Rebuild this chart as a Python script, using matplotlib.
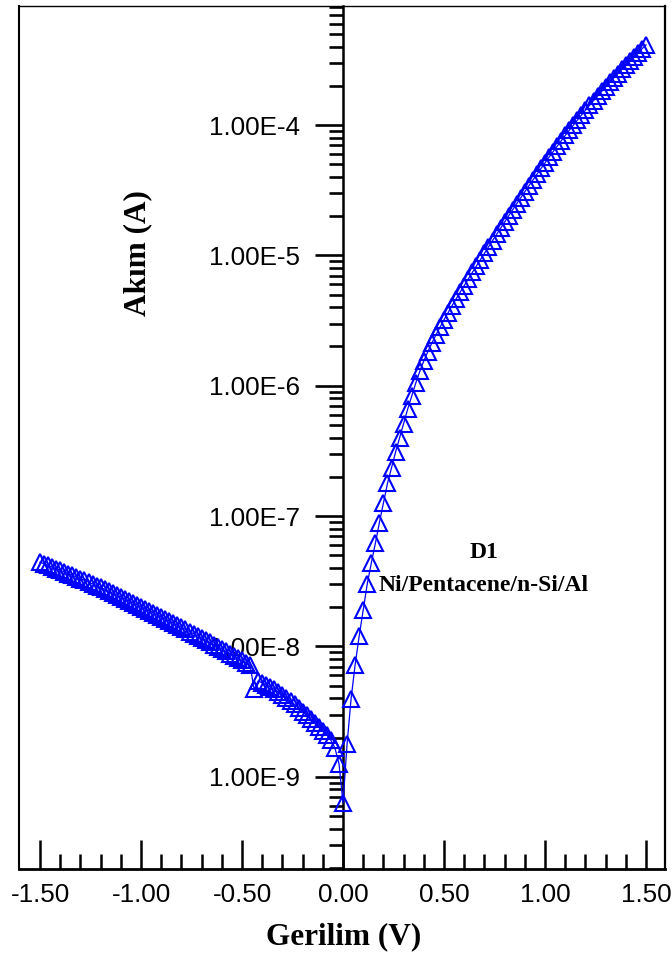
import numpy as np
import matplotlib
matplotlib.use("Agg")
import matplotlib.pyplot as plt
from matplotlib.ticker import FixedLocator, FuncFormatter, LogLocator, NullFormatter

# --- data (voltage in V, log10 of |current| in A) ---
voltage_reverse = [
    -1.50, -1.48, -1.46, -1.44, -1.42, -1.40, -1.38, -1.36, -1.34, -1.32,
    -1.30, -1.28, -1.26, -1.24, -1.22, -1.20, -1.18, -1.16, -1.14, -1.12,
    -1.10, -1.08, -1.06, -1.04, -1.02, -1.00, -0.98, -0.96, -0.94, -0.92,
    -0.90, -0.88, -0.86, -0.84, -0.82, -0.80, -0.78, -0.76, -0.74, -0.72,
    -0.70, -0.68, -0.66, -0.64, -0.62, -0.60, -0.58, -0.56, -0.54, -0.52,
    -0.50, -0.48, -0.46, -0.44, -0.42, -0.40, -0.38, -0.36, -0.34, -0.32,
    -0.30, -0.28, -0.26, -0.24, -0.22, -0.20, -0.18, -0.16, -0.14, -0.12,
    -0.10, -0.08, -0.06, -0.04, -0.02,
]
log_current_reverse = [
    -7.354, -7.366, -7.378, -7.391, -7.403, -7.416, -7.429, -7.441, -7.454, -7.467,
    -7.480, -7.493, -7.507, -7.520, -7.534, -7.548, -7.562, -7.576, -7.591, -7.605,
    -7.620, -7.635, -7.650, -7.665, -7.680, -7.695, -7.711, -7.726, -7.742, -7.757,
    -7.773, -7.789, -7.805, -7.821, -7.837, -7.853, -7.869, -7.886, -7.902, -7.919,
    -7.935, -7.952, -7.969, -7.986, -8.003, -8.020, -8.037, -8.055, -8.072, -8.090,
    -8.108, -8.126, -8.145, -8.330, -8.265, -8.280, -8.295, -8.310, -8.330, -8.350,
    -8.370, -8.395, -8.420, -8.445, -8.470, -8.500, -8.530, -8.560, -8.590, -8.620,
    -8.650, -8.680, -8.720, -8.780, -8.900,
]
voltage_forward = [
    0.00, 0.02, 0.04, 0.06, 0.08, 0.10, 0.12, 0.14, 0.16, 0.18,
    0.20, 0.22, 0.24, 0.26, 0.28, 0.30, 0.32, 0.34, 0.36, 0.38,
    0.40, 0.42, 0.44, 0.46, 0.48, 0.50, 0.52, 0.54, 0.56, 0.58,
    0.60, 0.62, 0.64, 0.66, 0.68, 0.70, 0.72, 0.74, 0.76, 0.78,
    0.80, 0.82, 0.84, 0.86, 0.88, 0.90, 0.92, 0.94, 0.96, 0.98,
    1.00, 1.02, 1.04, 1.06, 1.08, 1.10, 1.12, 1.14, 1.16, 1.18,
    1.20, 1.22, 1.24, 1.26, 1.28, 1.30, 1.32, 1.34, 1.36, 1.38,
    1.40, 1.42, 1.44, 1.46, 1.48, 1.50,
]
log_current_forward = [
    -9.200, -8.750, -8.400, -8.140, -7.920, -7.720, -7.520, -7.360, -7.210, -7.050,
    -6.900, -6.750, -6.630, -6.510, -6.400, -6.290, -6.180, -6.080, -5.980, -5.890,
    -5.810, -5.738, -5.672, -5.610, -5.551, -5.494, -5.439, -5.385, -5.333, -5.282,
    -5.231, -5.181, -5.131, -5.082, -5.033, -4.984, -4.935, -4.887, -4.839, -4.791,
    -4.743, -4.696, -4.649, -4.603, -4.557, -4.511, -4.466, -4.421, -4.377, -4.333,
    -4.289, -4.246, -4.204, -4.162, -4.121, -4.080, -4.040, -4.001, -3.962, -3.924,
    -3.886, -3.849, -3.813, -3.777, -3.742, -3.707, -3.673, -3.639, -3.606, -3.573,
    -3.541, -3.509, -3.477, -3.446, -3.415, -3.385,
]
x_major_ticks = [-1.5, -1.0, -0.5, 0.0, 0.5, 1.0, 1.5]
x_minor_ticks = [-1.4, -1.3, -1.2, -1.1, -0.9, -0.8, -0.7, -0.6, -0.4, -0.3, -0.2, -0.1,
                 0.1, 0.2, 0.3, 0.4, 0.6, 0.7, 0.8, 0.9, 1.1, 1.2, 1.3, 1.4]
y_major_ticks = [1e-9, 1e-8, 1e-7, 1e-6, 1e-5, 1e-4]
sample_lines = ["D1", "Ni/Pentacene/n-Si/Al"]

voltage = np.array(voltage_reverse + voltage_forward)
current = 10.0 ** np.array(log_current_reverse + log_current_forward)

sans = ["Liberation Sans", "DejaVu Sans"]
serif = ["Liberation Serif", "DejaVu Serif"]

fig = plt.figure(figsize=(6.72, 9.6), dpi=100)
ax = fig.add_axes([0.0283, 0.0948, 0.9613, 0.899])

ax.plot(voltage, current, color="#0000ff", lw=0.9, marker="^", ms=11,
        mfc="none", mec="#0000ff", mew=1.5, zorder=3)

ax.set_yscale("log")
ax.set_xlim(-1.604, 1.594)
ax.set_ylim(1.96e-10, 8.2e-4)

# y axis sits at V = 0, the frame is kept round the whole plot
ax.spines["left"].set_position(("data", 0))
ax.spines["left"].set_linewidth(1.8)
ax.spines["bottom"].set_linewidth(2.0)
ax.spines["right"].set_linewidth(1.6)
ax.spines["top"].set_linewidth(1.0)
ax.plot([0, 0], [0, 1], transform=ax.transAxes, color="black", lw=1.5,
        clip_on=False, zorder=4)

ax.xaxis.set_major_locator(FixedLocator(x_major_ticks))
ax.xaxis.set_minor_locator(FixedLocator(x_minor_ticks))
ax.xaxis.set_major_formatter(FuncFormatter(lambda v, p: f"{v:.2f}"))
ax.yaxis.set_major_locator(FixedLocator(y_major_ticks))
ax.yaxis.set_minor_locator(LogLocator(base=10, subs=np.arange(2, 10)))
ax.yaxis.set_minor_formatter(NullFormatter())


def sci_label(v, pos):
    mant, exp = f"{v:.2E}".split("E")
    return f"{mant}E{int(exp)}"


ax.yaxis.set_major_formatter(FuncFormatter(sci_label))

ax.tick_params(axis="x", which="major", direction="in", length=21, width=1.8,
               pad=10, labelsize=18.7)
ax.tick_params(axis="x", which="minor", direction="in", length=10.5, width=1.8)
ax.tick_params(axis="y", which="major", direction="out", length=20, width=1.9,
               pad=11, labelsize=18.7)
ax.tick_params(axis="y", which="minor", direction="out", length=10, width=1.9)
for lab in ax.get_xticklabels() + ax.get_yticklabels():
    lab.set_fontfamily(sans)

ax.text(0.183, 0.714, "Akım (A)", transform=ax.transAxes, rotation=90,
        ha="center", va="center", fontsize=22.5, fontweight="bold", family=serif)
fig.text(344 / 672, 1 - 937 / 960, "Gerilim (V)", ha="center", va="center",
         fontsize=22.5, fontweight="bold", family=serif)

ax.text(0.72, 0.367, sample_lines[0], transform=ax.transAxes, ha="center",
        va="center", fontsize=17, fontweight="bold", family=serif)
ax.text(0.72, 0.329, sample_lines[1], transform=ax.transAxes, ha="center",
        va="center", fontsize=17, fontweight="bold", family=serif)

fig.savefig("out.png", dpi=100)
